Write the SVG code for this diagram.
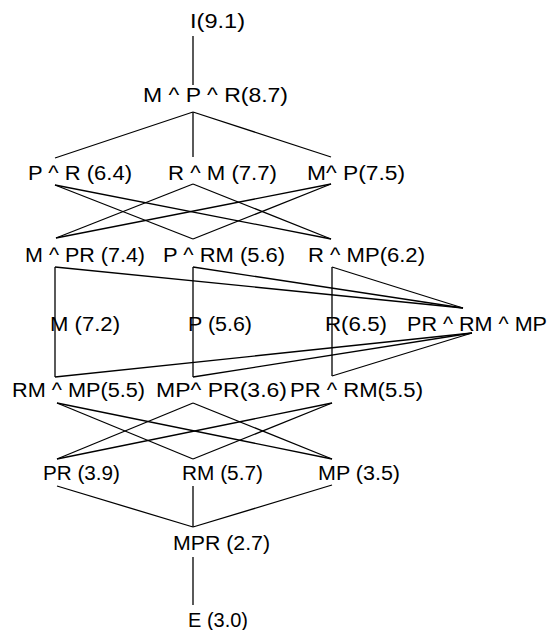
<svg xmlns="http://www.w3.org/2000/svg" width="548" height="630" viewBox="0 0 548 630">
<style>
text{font-family:"Liberation Sans",Arial,sans-serif;font-size:20px;fill:#000}
.e{stroke:#000;stroke-width:1.3;fill:none}
</style>
<rect width="548" height="630" fill="#fff"/>
<g id="connectors" class="e">
<line x1="193" y1="36" x2="193" y2="85"/>
<line x1="193" y1="112" x2="55" y2="158"/>
<line x1="193" y1="112" x2="193" y2="157"/>
<line x1="193" y1="112" x2="331" y2="157"/>
<line x1="55" y1="185" x2="193" y2="239"/>
<line x1="55" y1="185" x2="331" y2="239"/>
<line x1="193" y1="184" x2="56" y2="238"/>
<line x1="193" y1="184" x2="331" y2="239"/>
<line x1="331" y1="184" x2="56" y2="238"/>
<line x1="331" y1="184" x2="193" y2="239"/>
<line x1="55" y1="267" x2="55" y2="377"/>
<line x1="193" y1="267" x2="193" y2="377"/>
<line x1="332" y1="267" x2="332" y2="376"/>
<line x1="55" y1="267" x2="463" y2="308"/>
<line x1="193" y1="267" x2="463" y2="308"/>
<line x1="332" y1="267" x2="463" y2="308"/>
<line x1="55" y1="377" x2="472" y2="333"/>
<line x1="193" y1="377" x2="472" y2="333"/>
<line x1="332" y1="376" x2="472" y2="333"/>
<line x1="57" y1="403" x2="193" y2="459"/>
<line x1="57" y1="403" x2="332" y2="459"/>
<line x1="193" y1="403" x2="57" y2="459"/>
<line x1="193" y1="403" x2="332" y2="459"/>
<line x1="332" y1="403" x2="57" y2="459"/>
<line x1="332" y1="403" x2="193" y2="459"/>
<line x1="57" y1="486" x2="193" y2="527"/>
<line x1="193" y1="486" x2="193" y2="527"/>
<line x1="332" y1="485" x2="193" y2="527"/>
<line x1="193" y1="557" x2="193" y2="605"/>
</g>
<g id="n-I"><text x="190" y="28" textLength="55" lengthAdjust="spacingAndGlyphs">I(9.1)</text></g>
<g id="n-MPR3"><text x="143" y="102" textLength="145" lengthAdjust="spacingAndGlyphs">M ^ P ^ R(8.7)</text></g>
<g id="n-PR"><text x="28" y="180" textLength="104" lengthAdjust="spacingAndGlyphs">P ^ R (6.4)</text></g>
<g id="n-RM"><text x="168" y="180" textLength="109" lengthAdjust="spacingAndGlyphs">R ^ M (7.7)</text></g>
<g id="n-MP"><text x="307" y="180" textLength="98" lengthAdjust="spacingAndGlyphs">M^ P(7.5)</text></g>
<g id="n-M-PR"><text x="25" y="262" textLength="120" lengthAdjust="spacingAndGlyphs">M ^ PR (7.4)</text></g>
<g id="n-P-RM"><text x="163" y="262" textLength="122" lengthAdjust="spacingAndGlyphs">P ^ RM (5.6)</text></g>
<g id="n-R-MP"><text x="308" y="262" textLength="117" lengthAdjust="spacingAndGlyphs">R ^ MP(6.2)</text></g>
<g id="n-M"><text x="50" y="331" textLength="70" lengthAdjust="spacingAndGlyphs">M  (7.2)</text></g>
<g id="n-P"><text x="188" y="331" textLength="64" lengthAdjust="spacingAndGlyphs">P (5.6)</text></g>
<g id="n-R"><text x="325" y="331" textLength="62" lengthAdjust="spacingAndGlyphs">R(6.5)</text></g>
<g id="n-PRRMMP"><text x="407" y="331" textLength="140" lengthAdjust="spacingAndGlyphs">PR ^ RM ^ MP</text></g>
<g id="n-RM-MP"><text x="12" y="397" textLength="133" lengthAdjust="spacingAndGlyphs">RM ^ MP(5.5)</text></g>
<g id="n-MP-PR"><text x="156" y="397" textLength="131" lengthAdjust="spacingAndGlyphs">MP^ PR(3.6)</text></g>
<g id="n-PR-RM"><text x="290" y="397" textLength="133" lengthAdjust="spacingAndGlyphs">PR ^ RM(5.5)</text></g>
<g id="n-PR2"><text x="43" y="480" textLength="77" lengthAdjust="spacingAndGlyphs">PR (3.9)</text></g>
<g id="n-RM2"><text x="182" y="480" textLength="81" lengthAdjust="spacingAndGlyphs">RM (5.7)</text></g>
<g id="n-MP2"><text x="318" y="480" textLength="82" lengthAdjust="spacingAndGlyphs">MP (3.5)</text></g>
<g id="n-MPR"><text x="173" y="550" textLength="97" lengthAdjust="spacingAndGlyphs">MPR (2.7)</text></g>
<g id="n-E"><text x="188" y="627" textLength="60" lengthAdjust="spacingAndGlyphs">E (3.0)</text></g>
</svg>
